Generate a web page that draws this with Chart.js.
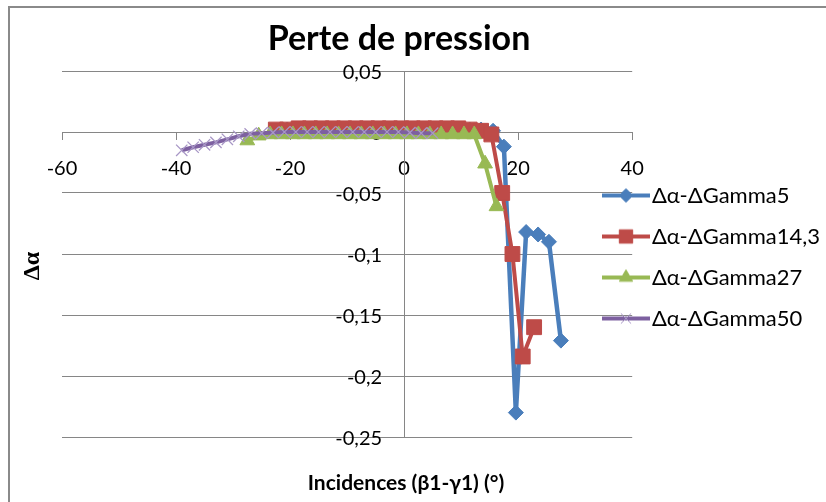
<!DOCTYPE html>
<html>
<head>
<meta charset="utf-8">
<title>Perte de pression</title>
<script src="https://cdn.jsdelivr.net/npm/chart.js@4/dist/chart.umd.min.js"></script>
<style>
    body { margin: 0; background: #fff; }
    #wrap { width: 826px; height: 502px; }
</style>
</head>
<body>
<div id="wrap"><canvas id="myChart"></canvas></div>
<script>
// series names
var seriesNames = ['Δα-ΔGamma5', 'Δα-ΔGamma14,3', 'Δα-ΔGamma27', 'Δα-ΔGamma50'];

// Gamma5 (blue)
var gamma5X = [-20.5, -18.5, -16.5, -14.5, -12.5, -10.5, -8.5, -6.5, -4.5, -2.5, -0.5, 1.5, 3.5, 5.5, 7.5, 9.5, 11.5, 13.5, 15.6, 17.5, 19.6, 21.4, 23.5, 25.4, 27.5];
var gamma5Y = [0.002, 0.002, 0.002, 0.002, 0.002, 0.002, 0.002, 0.002, 0.002, 0.002, 0.002, 0.002, 0.002, 0.002, 0.002, 0.002, 0.002, 0.002, 0.001, -0.012, -0.230, -0.082, -0.084, -0.090, -0.171];

// Gamma14,3 (red)
var gamma14X = [-22.5, -20.5, -18.5, -16.5, -14.5, -12.5, -10.5, -8.5, -6.5, -4.5, -2.5, -0.5, 1.5, 3.5, 5.5, 7.5, 9.5, 11.5, 13.5, 15.3, 17.2, 19.0, 20.8, 22.8];
var gamma14Y = [0.002, 0.002, 0.003, 0.003, 0.003, 0.003, 0.003, 0.003, 0.003, 0.003, 0.003, 0.003, 0.003, 0.003, 0.003, 0.003, 0.003, 0.002, 0.001, -0.002, -0.050, -0.100, -0.184, -0.160];

// Gamma27 (green)
var gamma27X = [-27.5, -25.5, -23.5, -21.5, -19.5, -17.5, -15.5, -13.5, -11.5, -9.5, -7.5, -5.5, -3.5, -1.5, 0.5, 2.5, 4.5, 6.5, 8.5, 10.5, 12.3, 14.2, 16.2];
var gamma27Y = [-0.007, -0.003, -0.002, -0.002, -0.002, -0.002, -0.002, -0.002, -0.002, -0.002, -0.002, -0.002, -0.002, -0.002, -0.002, -0.002, -0.002, -0.002, -0.002, -0.002, -0.002, -0.026, -0.061];

// Gamma50 (purple)
var gamma50X = [-39, -37, -35, -33, -31, -29, -27, -25, -23, -21, -19, -17, -15, -13, -11, -9, -7, -5, -3, -1, 1, 3, 5];
var gamma50Y = [-0.015, -0.0125, -0.0105, -0.0085, -0.006, -0.0035, -0.0015, -0.001, -0.0005, 0, 0, 0, 0, 0, 0, 0, 0, 0, 0, 0, -0.0005, -0.001, -0.001];

// tick labels
var xTicks = [-60, -40, -20, 0, 20, 40];
var yTicks = [0.05, 0, -0.05, -0.1, -0.15, -0.2, -0.25];

var colors = ['#4A7EBB', '#BE4B48', '#98B954', '#7D60A0'];
var markerFill = ['#4A7EBB', '#BE4B48', '#98B954', '#A897C6'];
var pointStyles = ['rectRot', 'rect', 'triangle', 'crossRot'];
var pointRadius = [7.5, 10.5, 8.5, 8];

var plotRight = 632;   // right edge of the plot area
var legendLeft = 592;  // excel legend overlaps the plot area a bit

function toPoints(xs, ys) {
    return xs.map(function (x, i) { return { x: x, y: ys[i] }; });
}

function formatTick(v) {
    return String(Math.round(v * 100) / 100).replace('.', ',');
}

// small canvas with line + marker, like the excel legend
function makeLegendIcon(i) {
    var c = document.createElement('canvas');
    c.width = 48;
    c.height = 22;
    var g = c.getContext('2d');
    g.strokeStyle = colors[i];
    g.lineWidth = 4;
    g.beginPath();
    g.moveTo(0, 11);
    g.lineTo(48, 11);
    g.stroke();
    g.fillStyle = markerFill[i];
    g.strokeStyle = markerFill[i];
    g.lineWidth = 1;
    Chart.helpers.drawPoint(g, {
        pointStyle: pointStyles[i],
        radius: pointRadius[i] * 0.9,
        borderWidth: 1
    }, 24, 11);
    return c;
}

var xsList = [gamma5X, gamma14X, gamma27X, gamma50X];
var ysList = [gamma5Y, gamma14Y, gamma27Y, gamma50Y];

var datasets = seriesNames.map(function (name, i) {
    return {
        label: name,
        data: toPoints(xsList[i], ysList[i]),
        borderColor: colors[i],
        backgroundColor: markerFill[i],
        pointBackgroundColor: markerFill[i],
        pointBorderColor: markerFill[i],
        pointBorderWidth: i === 3 ? 1.3 : 1,
        borderWidth: i === 0 ? 4.5 : 4,
        pointStyle: pointStyles[i],
        pointRadius: pointRadius[i],
        pointHoverRadius: pointRadius[i],
        tension: 0,
        order: 4 - i
    };
});

var decorPlugin = {
    id: 'decor',
    afterLayout: function (chart) {
        // legend box from legendLeft to the canvas edge (it is clipped to its box)
        var lg = chart.legend;
        lg.left = legendLeft;
        lg.right = chart.width;
        lg.width = lg.right - lg.left;
        lg.top += 3;
        lg.bottom += 3;
    },
    beforeDraw: function (chart) {
        var ctx = chart.ctx;
        ctx.save();
        ctx.fillStyle = '#fff';
        ctx.fillRect(0, 0, chart.width, chart.height);
        ctx.strokeStyle = '#8a8a8a';
        ctx.lineWidth = 2;
        ctx.beginPath();
        ctx.moveTo(9, chart.height);
        ctx.lineTo(9, 7);
        ctx.lineTo(chart.width, 7);
        ctx.stroke();
        ctx.restore();
        // y labels sit a little left of the axis line, like excel
        chart.scales.y.getLabelItems().forEach(function (it) {
            if (!it.moved) {
                it.options.translation[0] -= 22;
                it.options.translation[1] += 2;
                it.moved = true;
            }
        });
    },
    afterDraw: function (chart) {
        var ctx = chart.ctx;
        ctx.save();
        ctx.fillStyle = '#000';
        ctx.textAlign = 'center';
        ctx.textBaseline = 'alphabetic';
        ctx.font = 'bold 34px Lato';
        ctx.fillText('Perte de pression', 399, 50);
        ctx.font = 'bold 21px Lato';
        ctx.fillText('Incidences (β1-γ1) (°)', 406, 490);
        ctx.translate(33, 266);
        ctx.rotate(-Math.PI / 2);
        ctx.textBaseline = 'middle';
        ctx.font = 'bold 24px "Liberation Serif"';
        ctx.fillText('Δα', 0, 0);
        ctx.restore();
    }
};

var ctx = document.getElementById('myChart').getContext('2d');
var myChart = new Chart(ctx, {
    type: 'scatter',
    data: { datasets: datasets },
    plugins: [decorPlugin],
    options: {
        responsive: true,
        maintainAspectRatio: false,
        animation: false,
        showLine: true,
        layout: {
            padding: { left: 62, top: 71, right: 0, bottom: 65 }
        },
        plugins: {
            tooltip: { enabled: false },
            title: { display: false },
            legend: {
                position: 'right',
                align: 'center',
                labels: {
                    usePointStyle: true,
                    pointStyleWidth: 30,
                    padding: 19,
                    color: '#000',
                    font: { family: 'Lato', size: 22 },
                    sort: function (a, b) { return a.datasetIndex - b.datasetIndex; },
                    generateLabels: function (chart) {
                        var items = Chart.defaults.plugins.legend.labels.generateLabels(chart);
                        items.forEach(function (it) {
                            it.pointStyle = makeLegendIcon(it.datasetIndex);
                        });
                        return items;
                    }
                }
            }
        },
        scales: {
            x: {
                type: 'linear',
                position: { y: 0 },
                min: -60,
                max: 40,
                afterBuildTicks: function (scale) {
                    scale.ticks = xTicks.map(function (v) { return { value: v }; });
                },
                afterFit: function (scale) { scale.height = 0; },
                grid: { display: true, drawOnChartArea: false, drawTicks: true, tickLength: 7, color: '#868686' },
                border: { display: true, color: '#868686', width: 1 },
                ticks: {
                    color: '#000',
                    font: { family: 'Lato', size: 20 },
                    padding: 18,
                    maxRotation: 0,
                    autoSkip: false
                }
            },
            y: {
                type: 'linear',
                position: { x: 0 },
                min: -0.25,
                max: 0.05,
                afterBuildTicks: function (scale) {
                    scale.ticks = yTicks.map(function (v) { return { value: v }; });
                },
                afterFit: function (scale) { scale.width = 0; },
                grid: { color: '#868686', drawTicks: true, tickLength: 7 },
                border: { display: true, color: '#868686', width: 1 },
                ticks: {
                    color: '#000',
                    font: { family: 'Lato', size: 20 },
                    autoSkip: false,
                    callback: formatTick
                }
            }
        }
    }
});

// a few passes so the plot area ends where the excel plot area ends
for (var pass = 0; pass < 3; pass++) {
    var fix = myChart.chartArea.right - plotRight;
    if (Math.abs(fix) < 0.5) break;
    myChart.options.layout.padding.right += fix;
    myChart.update();
}
</script>
</body>
</html>
